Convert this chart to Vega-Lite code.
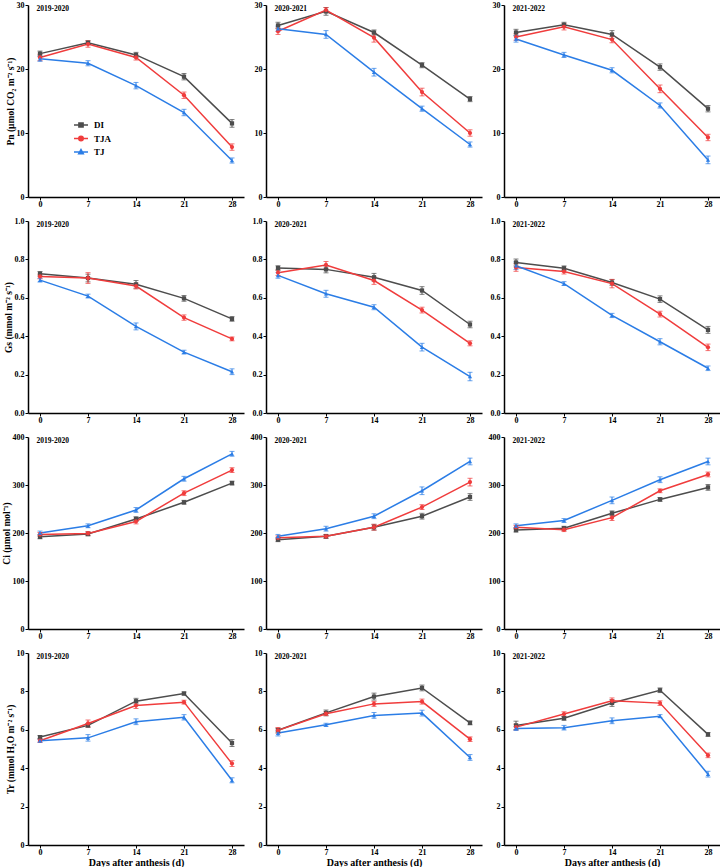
{
  "$schema": "https://vega.github.io/schema/vega-lite/v6.json",
  "padding": {"left": 1, "top": 1, "right": 0, "bottom": 0},
  "background": "white",
  "data": {"values": [
    {"v":"Pn","s":"2019-2020","t":"DI","d":0,"y":22.4,"e":0.4},{"v":"Pn","s":"2019-2020","t":"DI","d":7,"y":24.1,"e":0.3},{"v":"Pn","s":"2019-2020","t":"DI","d":14,"y":22.2,"e":0.4},{"v":"Pn","s":"2019-2020","t":"DI","d":21,"y":18.8,"e":0.5},{"v":"Pn","s":"2019-2020","t":"DI","d":28,"y":11.5,"e":0.6},
    {"v":"Pn","s":"2019-2020","t":"TJA","d":0,"y":21.8,"e":0.5},{"v":"Pn","s":"2019-2020","t":"TJA","d":7,"y":23.9,"e":0.5},{"v":"Pn","s":"2019-2020","t":"TJA","d":14,"y":21.8,"e":0.4},{"v":"Pn","s":"2019-2020","t":"TJA","d":21,"y":15.9,"e":0.5},{"v":"Pn","s":"2019-2020","t":"TJA","d":28,"y":7.8,"e":0.5},
    {"v":"Pn","s":"2019-2020","t":"TJ","d":0,"y":21.6,"e":0.4},{"v":"Pn","s":"2019-2020","t":"TJ","d":7,"y":20.9,"e":0.4},{"v":"Pn","s":"2019-2020","t":"TJ","d":14,"y":17.4,"e":0.5},{"v":"Pn","s":"2019-2020","t":"TJ","d":21,"y":13.2,"e":0.5},{"v":"Pn","s":"2019-2020","t":"TJ","d":28,"y":5.7,"e":0.4},
    {"v":"Pn","s":"2020-2021","t":"DI","d":0,"y":26.8,"e":0.5},{"v":"Pn","s":"2020-2021","t":"DI","d":7,"y":29.0,"e":0.6},{"v":"Pn","s":"2020-2021","t":"DI","d":14,"y":25.7,"e":0.4},{"v":"Pn","s":"2020-2021","t":"DI","d":21,"y":20.6,"e":0.4},{"v":"Pn","s":"2020-2021","t":"DI","d":28,"y":15.3,"e":0.4},
    {"v":"Pn","s":"2020-2021","t":"TJA","d":0,"y":25.9,"e":0.5},{"v":"Pn","s":"2020-2021","t":"TJA","d":7,"y":29.2,"e":0.4},{"v":"Pn","s":"2020-2021","t":"TJA","d":14,"y":24.9,"e":0.7},{"v":"Pn","s":"2020-2021","t":"TJA","d":21,"y":16.4,"e":0.6},{"v":"Pn","s":"2020-2021","t":"TJA","d":28,"y":10.0,"e":0.5},
    {"v":"Pn","s":"2020-2021","t":"TJ","d":0,"y":26.3,"e":0.4},{"v":"Pn","s":"2020-2021","t":"TJ","d":7,"y":25.4,"e":0.6},{"v":"Pn","s":"2020-2021","t":"TJ","d":14,"y":19.5,"e":0.6},{"v":"Pn","s":"2020-2021","t":"TJ","d":21,"y":13.8,"e":0.4},{"v":"Pn","s":"2020-2021","t":"TJ","d":28,"y":8.2,"e":0.4},
    {"v":"Pn","s":"2021-2022","t":"DI","d":0,"y":25.7,"e":0.5},{"v":"Pn","s":"2021-2022","t":"DI","d":7,"y":26.9,"e":0.4},{"v":"Pn","s":"2021-2022","t":"DI","d":14,"y":25.4,"e":0.6},{"v":"Pn","s":"2021-2022","t":"DI","d":21,"y":20.3,"e":0.5},{"v":"Pn","s":"2021-2022","t":"DI","d":28,"y":13.8,"e":0.5},
    {"v":"Pn","s":"2021-2022","t":"TJA","d":0,"y":25.0,"e":0.5},{"v":"Pn","s":"2021-2022","t":"TJA","d":7,"y":26.6,"e":0.5},{"v":"Pn","s":"2021-2022","t":"TJA","d":14,"y":24.6,"e":0.5},{"v":"Pn","s":"2021-2022","t":"TJA","d":21,"y":16.9,"e":0.6},{"v":"Pn","s":"2021-2022","t":"TJA","d":28,"y":9.3,"e":0.5},
    {"v":"Pn","s":"2021-2022","t":"TJ","d":0,"y":24.7,"e":0.5},{"v":"Pn","s":"2021-2022","t":"TJ","d":7,"y":22.2,"e":0.4},{"v":"Pn","s":"2021-2022","t":"TJ","d":14,"y":19.8,"e":0.4},{"v":"Pn","s":"2021-2022","t":"TJ","d":21,"y":14.3,"e":0.4},{"v":"Pn","s":"2021-2022","t":"TJ","d":28,"y":5.8,"e":0.6},
    {"v":"Gs","s":"2019-2020","t":"DI","d":0,"y":0.725,"e":0.012},{"v":"Gs","s":"2019-2020","t":"DI","d":7,"y":0.703,"e":0.02},{"v":"Gs","s":"2019-2020","t":"DI","d":14,"y":0.670,"e":0.02},{"v":"Gs","s":"2019-2020","t":"DI","d":21,"y":0.597,"e":0.015},{"v":"Gs","s":"2019-2020","t":"DI","d":28,"y":0.490,"e":0.012},
    {"v":"Gs","s":"2019-2020","t":"TJA","d":0,"y":0.711,"e":0.012},{"v":"Gs","s":"2019-2020","t":"TJA","d":7,"y":0.703,"e":0.028},{"v":"Gs","s":"2019-2020","t":"TJA","d":14,"y":0.661,"e":0.015},{"v":"Gs","s":"2019-2020","t":"TJA","d":21,"y":0.497,"e":0.014},{"v":"Gs","s":"2019-2020","t":"TJA","d":28,"y":0.386,"e":0.01},
    {"v":"Gs","s":"2019-2020","t":"TJ","d":0,"y":0.692,"e":0.01},{"v":"Gs","s":"2019-2020","t":"TJ","d":7,"y":0.609,"e":0.01},{"v":"Gs","s":"2019-2020","t":"TJ","d":14,"y":0.451,"e":0.018},{"v":"Gs","s":"2019-2020","t":"TJ","d":21,"y":0.317,"e":0.01},{"v":"Gs","s":"2019-2020","t":"TJ","d":28,"y":0.215,"e":0.015},
    {"v":"Gs","s":"2020-2021","t":"DI","d":0,"y":0.755,"e":0.012},{"v":"Gs","s":"2020-2021","t":"DI","d":7,"y":0.748,"e":0.018},{"v":"Gs","s":"2020-2021","t":"DI","d":14,"y":0.707,"e":0.02},{"v":"Gs","s":"2020-2021","t":"DI","d":21,"y":0.638,"e":0.02},{"v":"Gs","s":"2020-2021","t":"DI","d":28,"y":0.461,"e":0.017},
    {"v":"Gs","s":"2020-2021","t":"TJA","d":0,"y":0.731,"e":0.015},{"v":"Gs","s":"2020-2021","t":"TJA","d":7,"y":0.771,"e":0.018},{"v":"Gs","s":"2020-2021","t":"TJA","d":14,"y":0.690,"e":0.02},{"v":"Gs","s":"2020-2021","t":"TJA","d":21,"y":0.536,"e":0.015},{"v":"Gs","s":"2020-2021","t":"TJA","d":28,"y":0.363,"e":0.013},
    {"v":"Gs","s":"2020-2021","t":"TJ","d":0,"y":0.717,"e":0.015},{"v":"Gs","s":"2020-2021","t":"TJ","d":7,"y":0.621,"e":0.018},{"v":"Gs","s":"2020-2021","t":"TJ","d":14,"y":0.551,"e":0.013},{"v":"Gs","s":"2020-2021","t":"TJ","d":21,"y":0.343,"e":0.02},{"v":"Gs","s":"2020-2021","t":"TJ","d":28,"y":0.190,"e":0.022},
    {"v":"Gs","s":"2021-2022","t":"DI","d":0,"y":0.784,"e":0.018},{"v":"Gs","s":"2021-2022","t":"DI","d":7,"y":0.754,"e":0.012},{"v":"Gs","s":"2021-2022","t":"DI","d":14,"y":0.680,"e":0.015},{"v":"Gs","s":"2021-2022","t":"DI","d":21,"y":0.593,"e":0.017},{"v":"Gs","s":"2021-2022","t":"DI","d":28,"y":0.433,"e":0.018},
    {"v":"Gs","s":"2021-2022","t":"TJA","d":0,"y":0.758,"e":0.02},{"v":"Gs","s":"2021-2022","t":"TJA","d":7,"y":0.737,"e":0.013},{"v":"Gs","s":"2021-2022","t":"TJA","d":14,"y":0.674,"e":0.022},{"v":"Gs","s":"2021-2022","t":"TJA","d":21,"y":0.515,"e":0.015},{"v":"Gs","s":"2021-2022","t":"TJA","d":28,"y":0.342,"e":0.017},
    {"v":"Gs","s":"2021-2022","t":"TJ","d":0,"y":0.767,"e":0.02},{"v":"Gs","s":"2021-2022","t":"TJ","d":7,"y":0.674,"e":0.01},{"v":"Gs","s":"2021-2022","t":"TJ","d":14,"y":0.508,"e":0.011},{"v":"Gs","s":"2021-2022","t":"TJ","d":21,"y":0.371,"e":0.016},{"v":"Gs","s":"2021-2022","t":"TJ","d":28,"y":0.233,"e":0.012},
    {"v":"Ci","s":"2019-2020","t":"DI","d":0,"y":192,"e":4},{"v":"Ci","s":"2019-2020","t":"DI","d":7,"y":198,"e":4},{"v":"Ci","s":"2019-2020","t":"DI","d":14,"y":229,"e":5},{"v":"Ci","s":"2019-2020","t":"DI","d":21,"y":264,"e":4},{"v":"Ci","s":"2019-2020","t":"DI","d":28,"y":304,"e":4},
    {"v":"Ci","s":"2019-2020","t":"TJA","d":0,"y":197,"e":4},{"v":"Ci","s":"2019-2020","t":"TJA","d":7,"y":199,"e":4},{"v":"Ci","s":"2019-2020","t":"TJA","d":14,"y":224,"e":5},{"v":"Ci","s":"2019-2020","t":"TJA","d":21,"y":283,"e":5},{"v":"Ci","s":"2019-2020","t":"TJA","d":28,"y":331,"e":5},
    {"v":"Ci","s":"2019-2020","t":"TJ","d":0,"y":200,"e":4},{"v":"Ci","s":"2019-2020","t":"TJ","d":7,"y":215,"e":4},{"v":"Ci","s":"2019-2020","t":"TJ","d":14,"y":248,"e":5},{"v":"Ci","s":"2019-2020","t":"TJ","d":21,"y":313,"e":5},{"v":"Ci","s":"2019-2020","t":"TJ","d":28,"y":365,"e":5},
    {"v":"Ci","s":"2020-2021","t":"DI","d":0,"y":186,"e":4},{"v":"Ci","s":"2020-2021","t":"DI","d":7,"y":193,"e":4},{"v":"Ci","s":"2020-2021","t":"DI","d":14,"y":212,"e":6},{"v":"Ci","s":"2020-2021","t":"DI","d":21,"y":235,"e":6},{"v":"Ci","s":"2020-2021","t":"DI","d":28,"y":275,"e":7},
    {"v":"Ci","s":"2020-2021","t":"TJA","d":0,"y":190,"e":4},{"v":"Ci","s":"2020-2021","t":"TJA","d":7,"y":193,"e":4},{"v":"Ci","s":"2020-2021","t":"TJA","d":14,"y":212,"e":6},{"v":"Ci","s":"2020-2021","t":"TJA","d":21,"y":254,"e":5},{"v":"Ci","s":"2020-2021","t":"TJA","d":28,"y":306,"e":8},
    {"v":"Ci","s":"2020-2021","t":"TJ","d":0,"y":193,"e":4},{"v":"Ci","s":"2020-2021","t":"TJ","d":7,"y":209,"e":5},{"v":"Ci","s":"2020-2021","t":"TJ","d":14,"y":235,"e":5},{"v":"Ci","s":"2020-2021","t":"TJ","d":21,"y":288,"e":8},{"v":"Ci","s":"2020-2021","t":"TJ","d":28,"y":349,"e":7},
    {"v":"Ci","s":"2021-2022","t":"DI","d":0,"y":206,"e":4},{"v":"Ci","s":"2021-2022","t":"DI","d":7,"y":210,"e":4},{"v":"Ci","s":"2021-2022","t":"DI","d":14,"y":241,"e":5},{"v":"Ci","s":"2021-2022","t":"DI","d":21,"y":270,"e":4},{"v":"Ci","s":"2021-2022","t":"DI","d":28,"y":295,"e":6},
    {"v":"Ci","s":"2021-2022","t":"TJA","d":0,"y":212,"e":4},{"v":"Ci","s":"2021-2022","t":"TJA","d":7,"y":207,"e":4},{"v":"Ci","s":"2021-2022","t":"TJA","d":14,"y":232,"e":6},{"v":"Ci","s":"2021-2022","t":"TJA","d":21,"y":288,"e":4},{"v":"Ci","s":"2021-2022","t":"TJA","d":28,"y":322,"e":5},
    {"v":"Ci","s":"2021-2022","t":"TJ","d":0,"y":215,"e":4},{"v":"Ci","s":"2021-2022","t":"TJ","d":7,"y":226,"e":4},{"v":"Ci","s":"2021-2022","t":"TJ","d":14,"y":268,"e":7},{"v":"Ci","s":"2021-2022","t":"TJ","d":21,"y":311,"e":6},{"v":"Ci","s":"2021-2022","t":"TJ","d":28,"y":349,"e":7},
    {"v":"Tr","s":"2019-2020","t":"DI","d":0,"y":5.62,"e":0.08},{"v":"Tr","s":"2019-2020","t":"DI","d":7,"y":6.23,"e":0.1},{"v":"Tr","s":"2019-2020","t":"DI","d":14,"y":7.49,"e":0.15},{"v":"Tr","s":"2019-2020","t":"DI","d":21,"y":7.89,"e":0.08},{"v":"Tr","s":"2019-2020","t":"DI","d":28,"y":5.31,"e":0.18},
    {"v":"Tr","s":"2019-2020","t":"TJA","d":0,"y":5.43,"e":0.08},{"v":"Tr","s":"2019-2020","t":"TJA","d":7,"y":6.33,"e":0.18},{"v":"Tr","s":"2019-2020","t":"TJA","d":14,"y":7.26,"e":0.15},{"v":"Tr","s":"2019-2020","t":"TJA","d":21,"y":7.44,"e":0.1},{"v":"Tr","s":"2019-2020","t":"TJA","d":28,"y":4.24,"e":0.15},
    {"v":"Tr","s":"2019-2020","t":"TJ","d":0,"y":5.43,"e":0.08},{"v":"Tr","s":"2019-2020","t":"TJ","d":7,"y":5.58,"e":0.17},{"v":"Tr","s":"2019-2020","t":"TJ","d":14,"y":6.42,"e":0.15},{"v":"Tr","s":"2019-2020","t":"TJ","d":21,"y":6.65,"e":0.14},{"v":"Tr","s":"2019-2020","t":"TJ","d":28,"y":3.37,"e":0.13},
    {"v":"Tr","s":"2020-2021","t":"DI","d":0,"y":5.98,"e":0.1},{"v":"Tr","s":"2020-2021","t":"DI","d":7,"y":6.88,"e":0.15},{"v":"Tr","s":"2020-2021","t":"DI","d":14,"y":7.73,"e":0.18},{"v":"Tr","s":"2020-2021","t":"DI","d":21,"y":8.18,"e":0.15},{"v":"Tr","s":"2020-2021","t":"DI","d":28,"y":6.36,"e":0.1},
    {"v":"Tr","s":"2020-2021","t":"TJA","d":0,"y":5.97,"e":0.15},{"v":"Tr","s":"2020-2021","t":"TJA","d":7,"y":6.84,"e":0.1},{"v":"Tr","s":"2020-2021","t":"TJA","d":14,"y":7.35,"e":0.13},{"v":"Tr","s":"2020-2021","t":"TJA","d":21,"y":7.47,"e":0.13},{"v":"Tr","s":"2020-2021","t":"TJA","d":28,"y":5.51,"e":0.12},
    {"v":"Tr","s":"2020-2021","t":"TJ","d":0,"y":5.83,"e":0.15},{"v":"Tr","s":"2020-2021","t":"TJ","d":7,"y":6.26,"e":0.08},{"v":"Tr","s":"2020-2021","t":"TJ","d":14,"y":6.75,"e":0.15},{"v":"Tr","s":"2020-2021","t":"TJ","d":21,"y":6.87,"e":0.15},{"v":"Tr","s":"2020-2021","t":"TJ","d":28,"y":4.56,"e":0.15},
    {"v":"Tr","s":"2021-2022","t":"DI","d":0,"y":6.23,"e":0.22},{"v":"Tr","s":"2021-2022","t":"DI","d":7,"y":6.60,"e":0.1},{"v":"Tr","s":"2021-2022","t":"DI","d":14,"y":7.40,"e":0.18},{"v":"Tr","s":"2021-2022","t":"DI","d":21,"y":8.06,"e":0.12},{"v":"Tr","s":"2021-2022","t":"DI","d":28,"y":5.76,"e":0.1},
    {"v":"Tr","s":"2021-2022","t":"TJA","d":0,"y":6.14,"e":0.15},{"v":"Tr","s":"2021-2022","t":"TJA","d":7,"y":6.82,"e":0.12},{"v":"Tr","s":"2021-2022","t":"TJA","d":14,"y":7.51,"e":0.15},{"v":"Tr","s":"2021-2022","t":"TJA","d":21,"y":7.39,"e":0.12},{"v":"Tr","s":"2021-2022","t":"TJA","d":28,"y":4.67,"e":0.12},
    {"v":"Tr","s":"2021-2022","t":"TJ","d":0,"y":6.07,"e":0.1},{"v":"Tr","s":"2021-2022","t":"TJ","d":7,"y":6.11,"e":0.12},{"v":"Tr","s":"2021-2022","t":"TJ","d":14,"y":6.47,"e":0.15},{"v":"Tr","s":"2021-2022","t":"TJ","d":21,"y":6.71,"e":0.08},{"v":"Tr","s":"2021-2022","t":"TJ","d":28,"y":3.69,"e":0.15}
  ]},
  "columns": 3,
  "bounds": "flush",
  "spacing": {"row": 24, "column": 22},
  "concat": [
    {"width":216,"height":192,"transform":[{"filter":"datum.v==='Pn'&&datum.s==='2019-2020'"}],
     "encoding":{"x":{"field":"d","type":"quantitative","scale":{"domain":[-1.75,29.75],"nice":false,"zero":false},"axis":{"values":[0,7,14,21,28],"title":null}},
       "y":{"field":"y","type":"quantitative","scale":{"domain":[0,30],"nice":false},"axis":{"values":[0,10,20,30],"title":"Pn (μmol CO₂ m⁻² s⁻¹)"}},
       "color":{"field":"t","type":"nominal","title":null,"scale":{"domain":["DI","TJA","TJ"],"range":["#4d4d4d","#f03c3c","#2b7de6"]},
         "legend":{"orient":"none","legendX":47,"legendY":114,"padding":0,"symbolSize":100,"rowPadding":1.5,"labelOffset":7,"labelFont":"Liberation Serif","labelFontWeight":"bold","labelFontSize":9,"labelColor":"black","symbolStrokeWidth":1.5,
           "encode":{"symbols":{"update":{
             "shape":{"signal":"datum.value==='DI' ? 'M-1.4,0H1.4M-0.42,-0.42H0.42V0.42H-0.42Z' : datum.value==='TJA' ? 'M-1.4,0H1.4M0.45,0A0.45,0.45,0,1,1,-0.45,0A0.45,0.45,0,1,1,0.45,0Z' : 'M-1.4,0H1.4M0,-0.5L0.46,0.34H-0.46Z'"},
             "fill":{"signal":"scale('color', datum.value)"},
             "stroke":{"signal":"scale('color', datum.value)"},
             "strokeWidth":{"value":1.5}}}}}}},
     "layer":[
       {"mark":{"type":"line","strokeWidth":1.5}},
       {"mark":{"type":"errorbar","ticks":{"size":5},"thickness":1},"encoding":{"yError":{"field":"e"}}},
       {"mark":{"type":"point","filled":true,"opacity":1,"size":18},"encoding":{"shape":{"condition":[{"test":"datum.t==='DI'","value":"square"},{"test":"datum.t==='TJA'","value":"circle"}],"value":"triangle-up"}}},
       {"transform":[{"filter":"datum.d===0&&datum.t==='DI'"}],"mark":{"type":"text","align":"left","baseline":"middle","dy":4,"font":"Liberation Serif","fontWeight":"bold","fontSize":7.5},"encoding":{"x":{"datum":-0.5},"y":{"datum":30},"text":{"field":"s"},"color":{"value":"black"}}}
     ]},
    {"width":216,"height":192,"transform":[{"filter":"datum.v==='Pn'&&datum.s==='2020-2021'"}],
     "encoding":{"x":{"field":"d","type":"quantitative","scale":{"domain":[-1.75,29.75],"nice":false,"zero":false},"axis":{"values":[0,7,14,21,28],"title":null}},
       "y":{"field":"y","type":"quantitative","scale":{"domain":[0,30],"nice":false},"axis":{"values":[0,10,20,30],"title":null}},
       "color":{"field":"t","type":"nominal","title":null,"legend":null}},
     "layer":[
       {"mark":{"type":"line","strokeWidth":1.5}},
       {"mark":{"type":"errorbar","ticks":{"size":5},"thickness":1},"encoding":{"yError":{"field":"e"}}},
       {"mark":{"type":"point","filled":true,"opacity":1,"size":18},"encoding":{"shape":{"condition":[{"test":"datum.t==='DI'","value":"square"},{"test":"datum.t==='TJA'","value":"circle"}],"value":"triangle-up"}}},
       {"transform":[{"filter":"datum.d===0&&datum.t==='DI'"}],"mark":{"type":"text","align":"left","baseline":"middle","dy":4,"font":"Liberation Serif","fontWeight":"bold","fontSize":7.5},"encoding":{"x":{"datum":-0.5},"y":{"datum":30},"text":{"field":"s"},"color":{"value":"black"}}}
     ]},
    {"width":216,"height":192,"transform":[{"filter":"datum.v==='Pn'&&datum.s==='2021-2022'"}],
     "encoding":{"x":{"field":"d","type":"quantitative","scale":{"domain":[-1.75,29.75],"nice":false,"zero":false},"axis":{"values":[0,7,14,21,28],"title":null}},
       "y":{"field":"y","type":"quantitative","scale":{"domain":[0,30],"nice":false},"axis":{"values":[0,10,20,30],"title":null}},
       "color":{"field":"t","type":"nominal","title":null,"legend":null}},
     "layer":[
       {"mark":{"type":"line","strokeWidth":1.5}},
       {"mark":{"type":"errorbar","ticks":{"size":5},"thickness":1},"encoding":{"yError":{"field":"e"}}},
       {"mark":{"type":"point","filled":true,"opacity":1,"size":18},"encoding":{"shape":{"condition":[{"test":"datum.t==='DI'","value":"square"},{"test":"datum.t==='TJA'","value":"circle"}],"value":"triangle-up"}}},
       {"transform":[{"filter":"datum.d===0&&datum.t==='DI'"}],"mark":{"type":"text","align":"left","baseline":"middle","dy":4,"font":"Liberation Serif","fontWeight":"bold","fontSize":7.5},"encoding":{"x":{"datum":-0.5},"y":{"datum":30},"text":{"field":"s"},"color":{"value":"black"}}}
     ]},
    {"width":216,"height":192,"transform":[{"filter":"datum.v==='Gs'&&datum.s==='2019-2020'"}],
     "encoding":{"x":{"field":"d","type":"quantitative","scale":{"domain":[-1.75,29.75],"nice":false,"zero":false},"axis":{"values":[0,7,14,21,28],"title":null}},
       "y":{"field":"y","type":"quantitative","scale":{"domain":[0,1],"nice":false},"axis":{"values":[0,0.2,0.4,0.6,0.8,1.0],"format":".1f","title":"Gs (mmol m⁻² s⁻¹)"}},
       "color":{"field":"t","type":"nominal","title":null,"legend":null}},
     "layer":[
       {"mark":{"type":"line","strokeWidth":1.5}},
       {"mark":{"type":"errorbar","ticks":{"size":5},"thickness":1},"encoding":{"yError":{"field":"e"}}},
       {"mark":{"type":"point","filled":true,"opacity":1,"size":18},"encoding":{"shape":{"condition":[{"test":"datum.t==='DI'","value":"square"},{"test":"datum.t==='TJA'","value":"circle"}],"value":"triangle-up"}}},
       {"transform":[{"filter":"datum.d===0&&datum.t==='DI'"}],"mark":{"type":"text","align":"left","baseline":"middle","dy":4,"font":"Liberation Serif","fontWeight":"bold","fontSize":7.5},"encoding":{"x":{"datum":-0.5},"y":{"datum":1},"text":{"field":"s"},"color":{"value":"black"}}}
     ]},
    {"width":216,"height":192,"transform":[{"filter":"datum.v==='Gs'&&datum.s==='2020-2021'"}],
     "encoding":{"x":{"field":"d","type":"quantitative","scale":{"domain":[-1.75,29.75],"nice":false,"zero":false},"axis":{"values":[0,7,14,21,28],"title":null}},
       "y":{"field":"y","type":"quantitative","scale":{"domain":[0,1],"nice":false},"axis":{"values":[0,0.2,0.4,0.6,0.8,1.0],"format":".1f","title":null}},
       "color":{"field":"t","type":"nominal","title":null,"legend":null}},
     "layer":[
       {"mark":{"type":"line","strokeWidth":1.5}},
       {"mark":{"type":"errorbar","ticks":{"size":5},"thickness":1},"encoding":{"yError":{"field":"e"}}},
       {"mark":{"type":"point","filled":true,"opacity":1,"size":18},"encoding":{"shape":{"condition":[{"test":"datum.t==='DI'","value":"square"},{"test":"datum.t==='TJA'","value":"circle"}],"value":"triangle-up"}}},
       {"transform":[{"filter":"datum.d===0&&datum.t==='DI'"}],"mark":{"type":"text","align":"left","baseline":"middle","dy":4,"font":"Liberation Serif","fontWeight":"bold","fontSize":7.5},"encoding":{"x":{"datum":-0.5},"y":{"datum":1},"text":{"field":"s"},"color":{"value":"black"}}}
     ]},
    {"width":216,"height":192,"transform":[{"filter":"datum.v==='Gs'&&datum.s==='2021-2022'"}],
     "encoding":{"x":{"field":"d","type":"quantitative","scale":{"domain":[-1.75,29.75],"nice":false,"zero":false},"axis":{"values":[0,7,14,21,28],"title":null}},
       "y":{"field":"y","type":"quantitative","scale":{"domain":[0,1],"nice":false},"axis":{"values":[0,0.2,0.4,0.6,0.8,1.0],"format":".1f","title":null}},
       "color":{"field":"t","type":"nominal","title":null,"legend":null}},
     "layer":[
       {"mark":{"type":"line","strokeWidth":1.5}},
       {"mark":{"type":"errorbar","ticks":{"size":5},"thickness":1},"encoding":{"yError":{"field":"e"}}},
       {"mark":{"type":"point","filled":true,"opacity":1,"size":18},"encoding":{"shape":{"condition":[{"test":"datum.t==='DI'","value":"square"},{"test":"datum.t==='TJA'","value":"circle"}],"value":"triangle-up"}}},
       {"transform":[{"filter":"datum.d===0&&datum.t==='DI'"}],"mark":{"type":"text","align":"left","baseline":"middle","dy":4,"font":"Liberation Serif","fontWeight":"bold","fontSize":7.5},"encoding":{"x":{"datum":-0.5},"y":{"datum":1},"text":{"field":"s"},"color":{"value":"black"}}}
     ]},
    {"width":216,"height":192,"transform":[{"filter":"datum.v==='Ci'&&datum.s==='2019-2020'"}],
     "encoding":{"x":{"field":"d","type":"quantitative","scale":{"domain":[-1.75,29.75],"nice":false,"zero":false},"axis":{"values":[0,7,14,21,28],"title":null}},
       "y":{"field":"y","type":"quantitative","scale":{"domain":[0,400],"nice":false},"axis":{"values":[0,100,200,300,400],"title":"Ci (μmol mol⁻¹)"}},
       "color":{"field":"t","type":"nominal","title":null,"legend":null}},
     "layer":[
       {"mark":{"type":"line","strokeWidth":1.5}},
       {"mark":{"type":"errorbar","ticks":{"size":5},"thickness":1},"encoding":{"yError":{"field":"e"}}},
       {"mark":{"type":"point","filled":true,"opacity":1,"size":18},"encoding":{"shape":{"condition":[{"test":"datum.t==='DI'","value":"square"},{"test":"datum.t==='TJA'","value":"circle"}],"value":"triangle-up"}}},
       {"transform":[{"filter":"datum.d===0&&datum.t==='DI'"}],"mark":{"type":"text","align":"left","baseline":"middle","dy":4,"font":"Liberation Serif","fontWeight":"bold","fontSize":7.5},"encoding":{"x":{"datum":-0.5},"y":{"datum":400},"text":{"field":"s"},"color":{"value":"black"}}}
     ]},
    {"width":216,"height":192,"transform":[{"filter":"datum.v==='Ci'&&datum.s==='2020-2021'"}],
     "encoding":{"x":{"field":"d","type":"quantitative","scale":{"domain":[-1.75,29.75],"nice":false,"zero":false},"axis":{"values":[0,7,14,21,28],"title":null}},
       "y":{"field":"y","type":"quantitative","scale":{"domain":[0,400],"nice":false},"axis":{"values":[0,100,200,300,400],"title":null}},
       "color":{"field":"t","type":"nominal","title":null,"legend":null}},
     "layer":[
       {"mark":{"type":"line","strokeWidth":1.5}},
       {"mark":{"type":"errorbar","ticks":{"size":5},"thickness":1},"encoding":{"yError":{"field":"e"}}},
       {"mark":{"type":"point","filled":true,"opacity":1,"size":18},"encoding":{"shape":{"condition":[{"test":"datum.t==='DI'","value":"square"},{"test":"datum.t==='TJA'","value":"circle"}],"value":"triangle-up"}}},
       {"transform":[{"filter":"datum.d===0&&datum.t==='DI'"}],"mark":{"type":"text","align":"left","baseline":"middle","dy":4,"font":"Liberation Serif","fontWeight":"bold","fontSize":7.5},"encoding":{"x":{"datum":-0.5},"y":{"datum":400},"text":{"field":"s"},"color":{"value":"black"}}}
     ]},
    {"width":216,"height":192,"transform":[{"filter":"datum.v==='Ci'&&datum.s==='2021-2022'"}],
     "encoding":{"x":{"field":"d","type":"quantitative","scale":{"domain":[-1.75,29.75],"nice":false,"zero":false},"axis":{"values":[0,7,14,21,28],"title":null}},
       "y":{"field":"y","type":"quantitative","scale":{"domain":[0,400],"nice":false},"axis":{"values":[0,100,200,300,400],"title":null}},
       "color":{"field":"t","type":"nominal","title":null,"legend":null}},
     "layer":[
       {"mark":{"type":"line","strokeWidth":1.5}},
       {"mark":{"type":"errorbar","ticks":{"size":5},"thickness":1},"encoding":{"yError":{"field":"e"}}},
       {"mark":{"type":"point","filled":true,"opacity":1,"size":18},"encoding":{"shape":{"condition":[{"test":"datum.t==='DI'","value":"square"},{"test":"datum.t==='TJA'","value":"circle"}],"value":"triangle-up"}}},
       {"transform":[{"filter":"datum.d===0&&datum.t==='DI'"}],"mark":{"type":"text","align":"left","baseline":"middle","dy":4,"font":"Liberation Serif","fontWeight":"bold","fontSize":7.5},"encoding":{"x":{"datum":-0.5},"y":{"datum":400},"text":{"field":"s"},"color":{"value":"black"}}}
     ]},
    {"width":216,"height":192,"transform":[{"filter":"datum.v==='Tr'&&datum.s==='2019-2020'"}],
     "encoding":{"x":{"field":"d","type":"quantitative","scale":{"domain":[-1.75,29.75],"nice":false,"zero":false},"axis":{"values":[0,7,14,21,28],"title":"Days after anthesis (d)"}},
       "y":{"field":"y","type":"quantitative","scale":{"domain":[0,10],"nice":false},"axis":{"values":[0,2,4,6,8,10],"title":"Tr (mmol H₂O m⁻² s⁻¹)"}},
       "color":{"field":"t","type":"nominal","title":null,"legend":null}},
     "layer":[
       {"mark":{"type":"line","strokeWidth":1.5}},
       {"mark":{"type":"errorbar","ticks":{"size":5},"thickness":1},"encoding":{"yError":{"field":"e"}}},
       {"mark":{"type":"point","filled":true,"opacity":1,"size":18},"encoding":{"shape":{"condition":[{"test":"datum.t==='DI'","value":"square"},{"test":"datum.t==='TJA'","value":"circle"}],"value":"triangle-up"}}},
       {"transform":[{"filter":"datum.d===0&&datum.t==='DI'"}],"mark":{"type":"text","align":"left","baseline":"middle","dy":4,"font":"Liberation Serif","fontWeight":"bold","fontSize":7.5},"encoding":{"x":{"datum":-0.5},"y":{"datum":10},"text":{"field":"s"},"color":{"value":"black"}}}
     ]},
    {"width":216,"height":192,"transform":[{"filter":"datum.v==='Tr'&&datum.s==='2020-2021'"}],
     "encoding":{"x":{"field":"d","type":"quantitative","scale":{"domain":[-1.75,29.75],"nice":false,"zero":false},"axis":{"values":[0,7,14,21,28],"title":"Days after anthesis (d)"}},
       "y":{"field":"y","type":"quantitative","scale":{"domain":[0,10],"nice":false},"axis":{"values":[0,2,4,6,8,10],"title":null}},
       "color":{"field":"t","type":"nominal","title":null,"legend":null}},
     "layer":[
       {"mark":{"type":"line","strokeWidth":1.5}},
       {"mark":{"type":"errorbar","ticks":{"size":5},"thickness":1},"encoding":{"yError":{"field":"e"}}},
       {"mark":{"type":"point","filled":true,"opacity":1,"size":18},"encoding":{"shape":{"condition":[{"test":"datum.t==='DI'","value":"square"},{"test":"datum.t==='TJA'","value":"circle"}],"value":"triangle-up"}}},
       {"transform":[{"filter":"datum.d===0&&datum.t==='DI'"}],"mark":{"type":"text","align":"left","baseline":"middle","dy":4,"font":"Liberation Serif","fontWeight":"bold","fontSize":7.5},"encoding":{"x":{"datum":-0.5},"y":{"datum":10},"text":{"field":"s"},"color":{"value":"black"}}}
     ]},
    {"width":216,"height":192,"transform":[{"filter":"datum.v==='Tr'&&datum.s==='2021-2022'"}],
     "encoding":{"x":{"field":"d","type":"quantitative","scale":{"domain":[-1.75,29.75],"nice":false,"zero":false},"axis":{"values":[0,7,14,21,28],"title":"Days after anthesis (d)"}},
       "y":{"field":"y","type":"quantitative","scale":{"domain":[0,10],"nice":false},"axis":{"values":[0,2,4,6,8,10],"title":null}},
       "color":{"field":"t","type":"nominal","title":null,"legend":null}},
     "layer":[
       {"mark":{"type":"line","strokeWidth":1.5}},
       {"mark":{"type":"errorbar","ticks":{"size":5},"thickness":1},"encoding":{"yError":{"field":"e"}}},
       {"mark":{"type":"point","filled":true,"opacity":1,"size":18},"encoding":{"shape":{"condition":[{"test":"datum.t==='DI'","value":"square"},{"test":"datum.t==='TJA'","value":"circle"}],"value":"triangle-up"}}},
       {"transform":[{"filter":"datum.d===0&&datum.t==='DI'"}],"mark":{"type":"text","align":"left","baseline":"middle","dy":4,"font":"Liberation Serif","fontWeight":"bold","fontSize":7.5},"encoding":{"x":{"datum":-0.5},"y":{"datum":10},"text":{"field":"s"},"color":{"value":"black"}}}
     ]}
  ],
  "config": {
    "view": {"stroke": null},
    "axis": {"grid": false, "domainColor": "black", "domainWidth": 1.5, "tickColor": "black", "tickWidth": 1, "tickSize": 3,
      "labelFont": "Liberation Serif", "labelFontWeight": "bold", "labelFontSize": 8, "labelColor": "black", "labelPadding": 1,
      "titleFont": "Liberation Serif", "titleFontWeight": "bold", "titleFontSize": 9.5, "titleColor": "black", "titlePadding": 1},
    "axisX": {"labelPadding": 0, "titleFontSize": 10, "titlePadding": 1}
  }
}
